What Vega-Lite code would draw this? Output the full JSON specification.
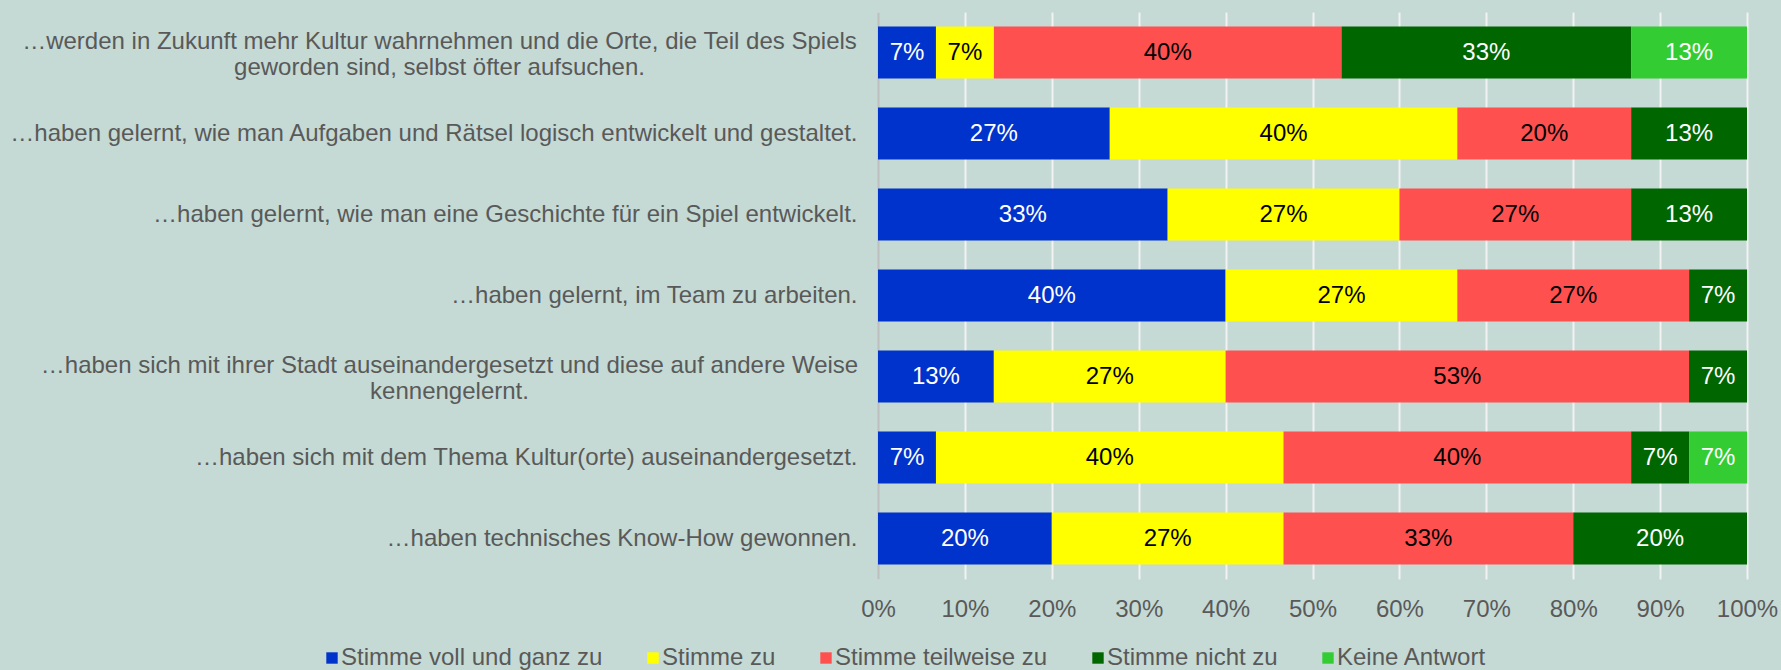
{
  "$schema": "https://vega.github.io/schema/vega-lite/v6.json",
  "width": 869,
  "height": 567,
  "autosize": {"type": "none"},
  "padding": {"left": 878, "top": 12, "right": 34, "bottom": 91},
  "background": "#C5D9D5",
  "config": {
    "view": {"stroke": null},
    "font": "Liberation Sans",
    "axis": {"labelFont": "Liberation Sans", "labelColor": "#595959", "labelFontSize": 24}
  },
  "data": {
    "values": [
      {"q": "q1", "cat": "Stimme voll und ganz zu", "o": 1, "v": 0.0667},
      {"q": "q1", "cat": "Stimme zu", "o": 2, "v": 0.0667},
      {"q": "q1", "cat": "Stimme teilweise zu", "o": 3, "v": 0.4},
      {"q": "q1", "cat": "Stimme nicht zu", "o": 4, "v": 0.3333},
      {"q": "q1", "cat": "Keine Antwort", "o": 5, "v": 0.1333},
      {"q": "q2", "cat": "Stimme voll und ganz zu", "o": 1, "v": 0.2667},
      {"q": "q2", "cat": "Stimme zu", "o": 2, "v": 0.4},
      {"q": "q2", "cat": "Stimme teilweise zu", "o": 3, "v": 0.2},
      {"q": "q2", "cat": "Stimme nicht zu", "o": 4, "v": 0.1333},
      {"q": "q3", "cat": "Stimme voll und ganz zu", "o": 1, "v": 0.3333},
      {"q": "q3", "cat": "Stimme zu", "o": 2, "v": 0.2667},
      {"q": "q3", "cat": "Stimme teilweise zu", "o": 3, "v": 0.2667},
      {"q": "q3", "cat": "Stimme nicht zu", "o": 4, "v": 0.1333},
      {"q": "q4", "cat": "Stimme voll und ganz zu", "o": 1, "v": 0.4},
      {"q": "q4", "cat": "Stimme zu", "o": 2, "v": 0.2667},
      {"q": "q4", "cat": "Stimme teilweise zu", "o": 3, "v": 0.2667},
      {"q": "q4", "cat": "Stimme nicht zu", "o": 4, "v": 0.0667},
      {"q": "q5", "cat": "Stimme voll und ganz zu", "o": 1, "v": 0.1333},
      {"q": "q5", "cat": "Stimme zu", "o": 2, "v": 0.2667},
      {"q": "q5", "cat": "Stimme teilweise zu", "o": 3, "v": 0.5333},
      {"q": "q5", "cat": "Stimme nicht zu", "o": 4, "v": 0.0667},
      {"q": "q6", "cat": "Stimme voll und ganz zu", "o": 1, "v": 0.0667},
      {"q": "q6", "cat": "Stimme zu", "o": 2, "v": 0.4},
      {"q": "q6", "cat": "Stimme teilweise zu", "o": 3, "v": 0.4},
      {"q": "q6", "cat": "Stimme nicht zu", "o": 4, "v": 0.0667},
      {"q": "q6", "cat": "Keine Antwort", "o": 5, "v": 0.0667},
      {"q": "q7", "cat": "Stimme voll und ganz zu", "o": 1, "v": 0.2},
      {"q": "q7", "cat": "Stimme zu", "o": 2, "v": 0.2667},
      {"q": "q7", "cat": "Stimme teilweise zu", "o": 3, "v": 0.3333},
      {"q": "q7", "cat": "Stimme nicht zu", "o": 4, "v": 0.2}
    ]
  },
  "transform": [
    {"stack": "v", "groupby": ["q"], "sort": [{"field": "o", "order": "ascending"}], "as": ["x0", "x1"]},
    {"calculate": "(datum.x0 + datum.x1) / 2", "as": "xm"}
  ],
  "encoding": {
    "y": {
      "field": "q",
      "type": "nominal",
      "sort": ["q1", "q2", "q3", "q4", "q5", "q6", "q7"],
      "scale": {"paddingInner": 0.36, "paddingOuter": 0.18},
      "axis": {
        "title": null,
        "ticks": false,
        "domain": true,
        "domainColor": "#BFBFBF",
        "domainWidth": 2.5,
        "labelLimit": 0,
        "labelLineHeight": 26,
        "labelAlign": {"condition": {"test": "datum.value == 'q1' || datum.value == 'q5'", "value": "center"}, "value": "right"},
        "labelPadding": {"condition": [{"test": "datum.value == 'q1'", "value": 439}, {"test": "datum.value == 'q5'", "value": 429}], "value": 21},
        "labelOffset": {"condition": {"test": "datum.value == 'q1' || datum.value == 'q5'", "value": -11}, "value": 0},
        "labelExpr": "datum.value == 'q1' ? ['…werden in Zukunft mehr Kultur wahrnehmen und die Orte, die Teil des Spiels', 'geworden sind, selbst öfter aufsuchen.'] : datum.value == 'q2' ? '…haben gelernt, wie man Aufgaben und Rätsel logisch entwickelt und gestaltet.' : datum.value == 'q3' ? '…haben gelernt, wie man eine Geschichte für ein Spiel entwickelt.' : datum.value == 'q4' ? '…haben gelernt, im Team zu arbeiten.' : datum.value == 'q5' ? ['…haben sich mit ihrer Stadt auseinandergesetzt und diese auf andere Weise', 'kennengelernt.'] : datum.value == 'q6' ? '…haben sich mit dem Thema Kultur(orte) auseinandergesetzt.' : '…haben technisches Know-How gewonnen.'"
      }
    }
  },
  "layer": [
    {
      "mark": {"type": "bar"},
      "encoding": {
        "x": {
          "field": "x0",
          "type": "quantitative",
          "scale": {"domain": [0, 1], "nice": false},
          "axis": {
            "title": null,
            "format": "0%",
            "values": [0, 0.1, 0.2, 0.3, 0.4, 0.5, 0.6, 0.7, 0.8, 0.9, 1],
            "domain": false,
            "ticks": false,
            "grid": true,
            "gridColor": "#F2F2F2",
            "gridWidth": 2,
            "labelPadding": 18,
            "labelFlush": false,
            "labelOverlap": false
          }
        },
        "x2": {"field": "x1"},
        "color": {
          "field": "cat",
          "type": "nominal",
          "sort": ["Stimme voll und ganz zu", "Stimme zu", "Stimme teilweise zu", "Stimme nicht zu", "Keine Antwort"],
          "scale": {
            "domain": ["Stimme voll und ganz zu", "Stimme zu", "Stimme teilweise zu", "Stimme nicht zu", "Keine Antwort"],
            "range": ["#0033CC", "#FFFF00", "#FF5050", "#006600", "#33CC33"]
          },
          "legend": {
            "title": null,
            "orient": "none",
            "legendX": -558,
            "legendY": 634,
            "direction": "horizontal",
            "columns": 5,
            "symbolType": "square",
            "symbolSize": 130,
            "symbolStrokeWidth": 0,
            "labelFont": "Liberation Sans",
            "labelFontSize": 24,
            "labelColor": "#595959",
            "labelOffset": -3,
            "columnPadding": 38,
            "labelLimit": 0
          }
        }
      }
    },
    {
      "mark": {"type": "text", "font": "Liberation Sans", "fontSize": 24, "baseline": "middle", "align": "center"},
      "encoding": {
        "x": {"field": "xm", "type": "quantitative"},
        "text": {"field": "v", "type": "quantitative", "format": ".0%"},
        "color": {
          "condition": {"test": "datum.o == 2 || datum.o == 3", "value": "#000000"},
          "value": "#FFFFFF"
        }
      }
    }
  ]
}
